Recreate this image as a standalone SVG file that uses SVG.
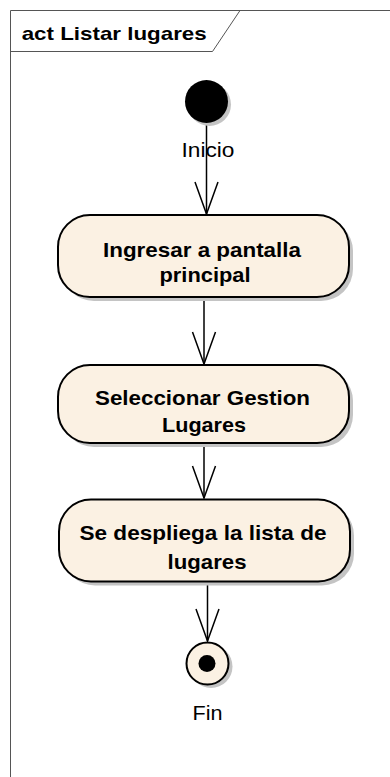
<svg xmlns="http://www.w3.org/2000/svg" width="390" height="777" viewBox="0 0 390 777">
<style>
.frame{fill:none;stroke:#555;stroke-width:1}
.title{font-family:"Liberation Sans",Arial,sans-serif;font-weight:bold;font-size:19px;fill:#000}
.act{fill:#FBF1E3;stroke:#000;stroke-width:2}
.shadow{fill:#C4C4C4;stroke:none}
.lbl{font-family:"Liberation Sans",Arial,sans-serif;font-weight:bold;font-size:21px;fill:#000;text-anchor:middle}
.nlbl{font-family:"Liberation Sans",Arial,sans-serif;font-size:21px;fill:#000;text-anchor:middle}
.edge{fill:none;stroke:#000;stroke-width:1.5}
</style>
<defs>
<marker id="open" markerWidth="36" markerHeight="26" refX="33" refY="12" orient="auto" markerUnits="userSpaceOnUse" viewBox="0 0 36 24">
<path d="M1,0.5 L33,12 L1,23.5" fill="none" stroke="#000" stroke-width="1.5"/>
</marker>
</defs>
<rect width="390" height="777" fill="#fff"/>
<g id="frame">
<path class="frame" d="M10.5,777 L10.5,10.5 L390,10.5"/>
<path class="frame" d="M10.5,51.5 L212.5,51.5 L240,10.5"/>
<text class="title" x="21.7" y="39.5" textLength="185" lengthAdjust="spacingAndGlyphs">act Listar lugares</text>
</g>
<g id="connectors">
<path class="edge" d="M206.5,123 L206.5,214" marker-end="url(#open)"/>
<path class="edge" d="M204,298 L204,364" marker-end="url(#open)"/>
<path class="edge" d="M204,443 L204,498" marker-end="url(#open)"/>
<path class="edge" d="M207.5,583 L207.5,641" marker-end="url(#open)"/>
</g>
<g id="start">
<circle class="shadow" cx="209.5" cy="104.5" r="21.5"/>
<circle cx="206.5" cy="101.5" r="21.5" fill="#000"/>
<text class="nlbl" x="208" y="157" textLength="53" lengthAdjust="spacingAndGlyphs">Inicio</text>
</g>
<g id="n1">
<rect class="shadow" x="62" y="219" width="291" height="82" rx="32"/>
<rect class="act" x="58" y="215" width="291" height="82" rx="32"/>
<text class="lbl" x="202" y="256.5" textLength="198" lengthAdjust="spacingAndGlyphs">Ingresar a pantalla</text>
<text class="lbl" x="205" y="281.5" textLength="91" lengthAdjust="spacingAndGlyphs">principal</text>
</g>
<g id="n2">
<rect class="shadow" x="62" y="369" width="291" height="78" rx="32"/>
<rect class="act" x="58" y="365" width="291" height="78" rx="32"/>
<text class="lbl" x="202.5" y="405" textLength="215" lengthAdjust="spacingAndGlyphs">Seleccionar Gestion</text>
<text class="lbl" x="204" y="431.5" textLength="84" lengthAdjust="spacingAndGlyphs">Lugares</text>
</g>
<g id="n3">
<rect class="shadow" x="63" y="503.5" width="291" height="82" rx="32"/>
<rect class="act" x="59" y="499.5" width="291" height="82" rx="32"/>
<text class="lbl" x="203" y="540" textLength="247" lengthAdjust="spacingAndGlyphs">Se despliega la lista de</text>
<text class="lbl" x="207" y="569" textLength="79" lengthAdjust="spacingAndGlyphs">lugares</text>
</g>
<g id="end">
<circle class="shadow" cx="211" cy="666.5" r="21.5"/>
<circle cx="207.5" cy="663.5" r="21" fill="#FBF1E3" stroke="#000" stroke-width="2"/>
<circle cx="207" cy="663.5" r="8.5" fill="#000"/>
<text class="nlbl" x="207.5" y="720" textLength="30" lengthAdjust="spacingAndGlyphs">Fin</text>
</g>
</svg>
